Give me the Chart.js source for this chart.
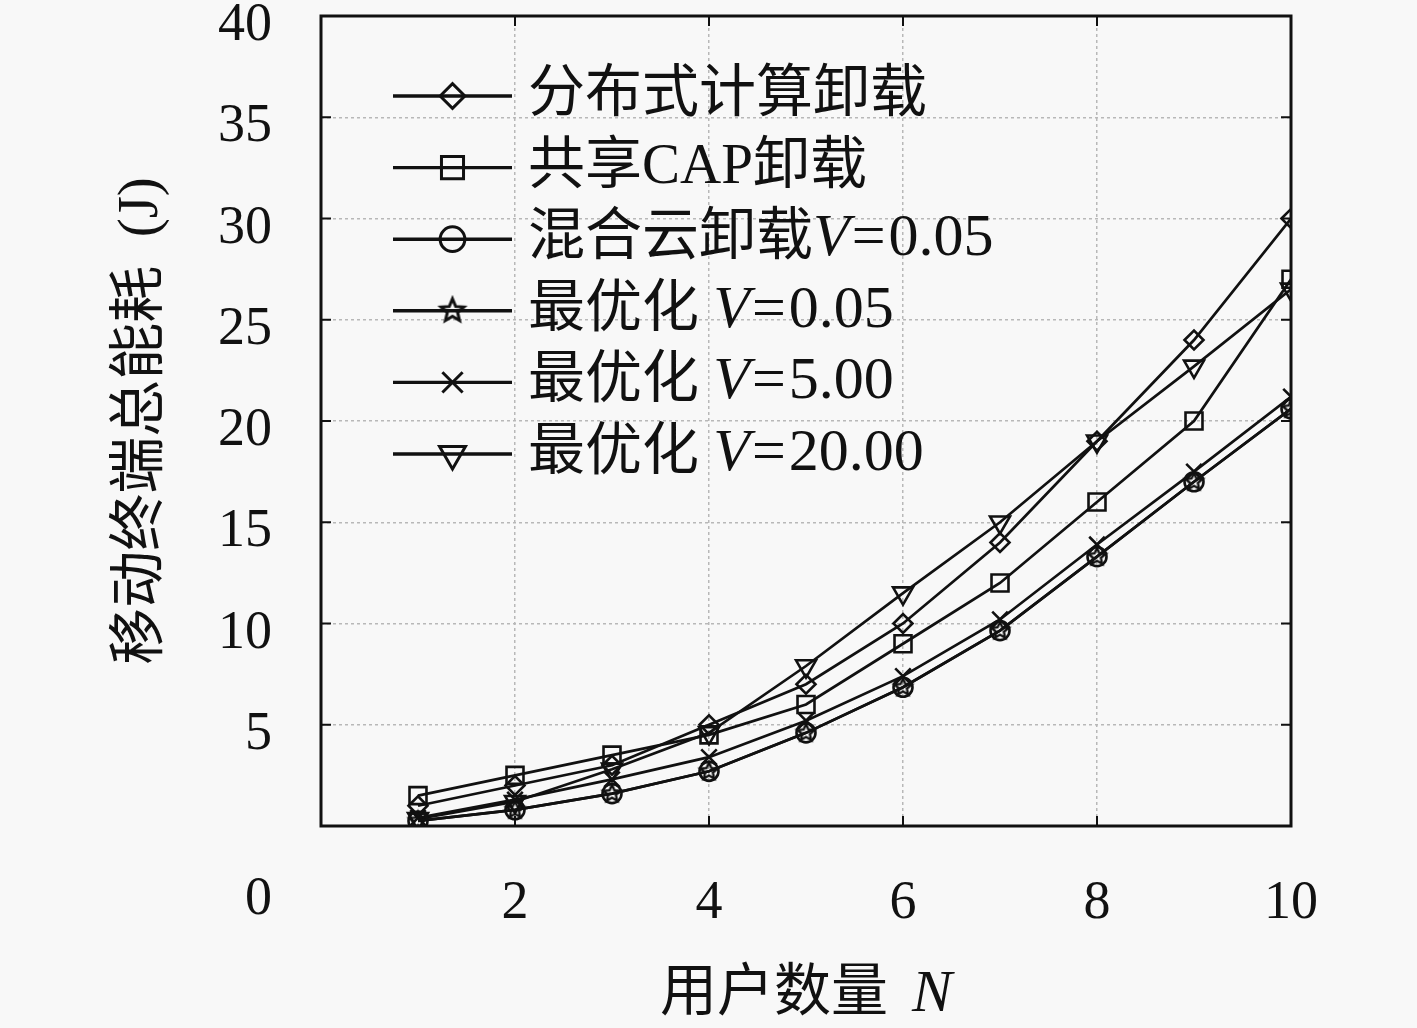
<!DOCTYPE html>
<html>
<head>
<meta charset="utf-8">
<script src="https://cdn.jsdelivr.net/npm/chart.js@4.4.0/dist/chart.umd.min.js"></script>
<style>
  html, body { margin: 0; padding: 0; background: #f8f8f8; }
  #wrap { width: 1417px; height: 1028px; position: relative; }
</style>
</head>
<body>
<div id="wrap"><canvas id="grafico" width="1417" height="1028"></canvas></div>
<script>
// dados
const usuarios = [1, 2, 3, 4, 5, 6, 7, 8, 9, 10];
const distribuido = [1.0, 2.0, 3.0, 5.0, 7.0, 10.0, 14.0, 19.0, 24.0, 30.0];
const compartilhado = [1.5, 2.5, 3.5, 4.5, 6.0, 9.0, 12.0, 16.0, 20.0, 27.0];
const nuvemHibrida = [0.25, 0.8, 1.6, 2.7, 4.6, 6.85, 9.65, 13.3, 17.0, 20.6];
const otimoV005 = [0.25, 0.8, 1.6, 2.7, 4.6, 6.85, 9.65, 13.3, 17.0, 20.6];
const otimoV5 = [0.4, 1.3, 2.3, 3.4, 5.2, 7.4, 10.2, 13.9, 17.5, 21.2];
const otimoV20 = [0.35, 1.2, 2.8, 4.6, 7.9, 11.5, 15.0, 19.0, 22.7, 26.5];

const rotulos = ['分布式计算卸载', '共享CAP卸载', '混合云卸载V=0.05', '最优化 V=0.05', '最优化 V=5.00', '最优化 V=20.00'];
const ticksX = [0, 2, 4, 6, 8, 10];
const ticksY = [0, 5, 10, 15, 20, 25, 30, 35, 40];
const tituloX = '用户数量';
const tituloY = '移动终端总能耗  (J)';

const FONTE = '"Liberation Serif", "Noto Sans CJK SC", serif';
const PRETO = '#111';

// estrela de cinco pontas (não existe no Chart.js)
function estrela(r, lw) {
    const c = document.createElement('canvas');
    const s = Math.ceil(r * 2 + lw * 2 + 2);
    c.width = s; c.height = s;
    const g = c.getContext('2d');
    g.beginPath();
    for (let i = 0; i < 10; i++) {
        const ang = -Math.PI / 2 + i * Math.PI / 5;
        const rr = i % 2 === 0 ? r : r * 0.45;
        g.lineTo(s / 2 + rr * Math.cos(ang), s / 2 + rr * Math.sin(ang));
    }
    g.closePath();
    g.lineWidth = lw;
    g.strokeStyle = PRETO;
    g.stroke();
    return c;
}

const marcadores = [
    { estilo: 'rectRot', raio: 9.5, rot: 0 },
    { estilo: 'rect', raio: 12, rot: 0 },
    { estilo: 'circle', raio: 9.5, rot: 0 },
    { estilo: estrela(9, 2.4), raio: 9, rot: 0, img: estrela(12, 3) },
    { estilo: 'crossRot', raio: 11, rot: 0 },
    { estilo: 'triangle', raio: 11.5, rot: 180 }
];
const series = [distribuido, compartilhado, nuvemHibrida, otimoV005, otimoV5, otimoV20];

const datasets = series.map((valores, i) => ({
    label: rotulos[i],
    data: usuarios.map((u, k) => ({ x: u, y: valores[k] })),
    borderColor: PRETO,
    borderWidth: 2.7,
    pointStyle: marcadores[i].estilo,
    pointRadius: marcadores[i].raio,
    pointRotation: marcadores[i].rot,
    pointBorderColor: PRETO,
    pointBackgroundColor: 'rgba(0,0,0,0)',
    pointBorderWidth: 2.6,
    fill: false,
    tension: 0
}));

// texto com partes em itálico; partes latinas um pouco maiores (tipo Computer Modern)
function fonteDe(p, tam) {
    const t = p.latino ? Math.round(tam * 1.05) : tam;
    return (p.italico ? 'italic ' : '') + t + 'px ' + FONTE;
}
function escreveMisto(ctx, partes, x, y, tam) {
    partes.forEach(p => {
        ctx.font = fonteDe(p, tam);
        ctx.fillText(p.t, x, y);
        x += ctx.measureText(p.t).width + (p.gap || 0);
    });
}
function larguraMista(ctx, partes, tam) {
    let w = 0;
    partes.forEach(p => {
        ctx.font = fonteDe(p, tam);
        w += ctx.measureText(p.t).width + (p.gap || 0);
    });
    return w;
}
function partesDoRotulo(txt) {
    const i = txt.indexOf('V');
    if (i < 0) return [{ t: txt }];
    return [
        { t: txt.slice(0, i) },
        { t: 'V', italico: true, latino: true, gap: 2 },
        { t: '=', latino: true, gap: 3 },
        { t: txt.slice(i + 2), latino: true }
    ];
}

const moldura = {
    id: 'moldura',
    afterDatasetsDraw(chart) {
        const { ctx, chartArea: a, scales } = chart;
        ctx.save();
        // marcas internas
        ctx.strokeStyle = PRETO;
        ctx.lineWidth = 2;
        ticksY.forEach(v => {
            const y = scales.y.getPixelForValue(v);
            ctx.beginPath();
            ctx.moveTo(a.left, y); ctx.lineTo(a.left + 10, y);
            ctx.moveTo(a.right, y); ctx.lineTo(a.right - 10, y);
            ctx.stroke();
        });
        ticksX.forEach(v => {
            const x = scales.x.getPixelForValue(v);
            ctx.beginPath();
            ctx.moveTo(x, a.bottom); ctx.lineTo(x, a.bottom - 10);
            ctx.moveTo(x, a.top); ctx.lineTo(x, a.top + 10);
            ctx.stroke();
        });
        ctx.lineWidth = 3;
        ctx.strokeRect(a.left, a.top, a.right - a.left, a.bottom - a.top);

        // legenda dentro da área
        chart.data.datasets.forEach((ds, i) => {
            const y = a.top + 80 + i * 71.6;
            const x0 = a.left + 72, x1 = a.left + 191, xm = (x0 + x1) / 2;
            ctx.strokeStyle = PRETO;
            ctx.lineWidth = 3.4;
            ctx.beginPath(); ctx.moveTo(x0, y); ctx.lineTo(x1, y); ctx.stroke();
            const m = marcadores[i];
            if (m.img) {
                ctx.drawImage(m.img, xm - m.img.width / 2, y - m.img.height / 2);
            } else {
                ctx.fillStyle = 'rgba(0,0,0,0)';
                ctx.lineWidth = 3;
                Chart.helpers.drawPoint(ctx, { pointStyle: m.estilo, radius: m.raio * 1.3, rotation: m.rot, borderWidth: 3 }, xm, y);
            }
            ctx.fillStyle = PRETO;
            ctx.textBaseline = 'middle';
            ctx.textAlign = 'left';
            escreveMisto(ctx, partesDoRotulo(ds.label), a.left + 207, y, 57);
        });

        // "0" isolado no canto
        ctx.fillStyle = PRETO;
        ctx.font = '54px ' + FONTE;
        ctx.textAlign = 'right';
        ctx.textBaseline = 'middle';
        ctx.fillText('0', a.left - 49, a.bottom + 74);

        // título do eixo x com N em itálico
        const partes = [{ t: tituloX, gap: 24 }, { t: 'N', italico: true, latino: true }];
        const w = larguraMista(ctx, partes, 57);
        ctx.textAlign = 'left';
        escreveMisto(ctx, partes, (a.left + a.right) / 2 - w / 2, 995, 57);
        ctx.restore();
    }
};

new Chart(document.getElementById('grafico'), {
    type: 'line',
    data: { datasets: datasets },
    options: {
        responsive: false,
        animation: false,
        layout: { padding: { top: 16, right: 126, left: 0, bottom: 0 } },
        plugins: { legend: { display: false }, tooltip: { enabled: false } },
        scales: {
            x: {
                type: 'linear', min: 0, max: 10,
                ticks: {
                    stepSize: 2, autoSkip: false, padding: 45, color: PRETO,
                    font: { family: FONTE, size: 54 },
                    callback: v => (v === 0 ? '' : v)
                },
                grid: { color: '#b8b8b8', lineWidth: 1.5, drawTicks: false },
                border: { display: false, dash: [3, 3] },
                afterFit: s => { s.height = 202; s.paddingLeft = 0; s.paddingRight = 0; }
            },
            y: {
                type: 'linear', min: 0, max: 40,
                ticks: {
                    stepSize: 5, autoSkip: false, padding: 49, labelOffset: 10, color: PRETO,
                    font: { family: FONTE, size: 54 },
                    callback: v => (v === 0 ? '' : v)
                },
                grid: { color: '#b8b8b8', lineWidth: 1.5, drawTicks: false },
                border: { display: false, dash: [3, 3] },
                title: {
                    display: true, text: tituloY, color: PRETO,
                    font: { family: FONTE, size: 57 },
                    padding: { top: 108, bottom: 0 }
                },
                afterFit: s => { s.width = 321; s.paddingTop = 0; s.paddingBottom = 0; }
            }
        }
    },
    plugins: [moldura]
});
</script>
</body>
</html>
